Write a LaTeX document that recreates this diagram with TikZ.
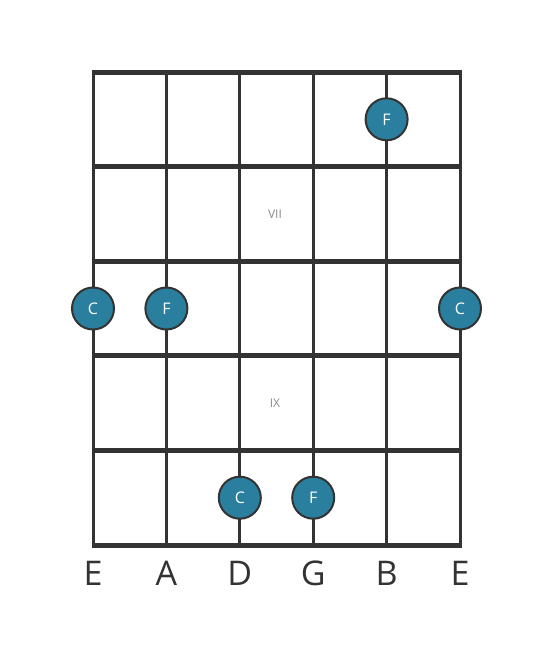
\documentclass[tikz,border=0pt]{standalone}
\usepackage{fontspec}
\setmainfont{Open Sans}
\usepackage{tikz}

\definecolor{linegray}{HTML}{333333}
\definecolor{dotblue}{HTML}{2A7F9E}
\definecolor{posgray}{HTML}{8A8A8A}

\tikzset{
	fretline/.style={draw=linegray, line width=5pt},
	stringline/.style={draw=linegray, line width=3pt},
	notedot/.style={circle, fill=dotblue, draw=linegray, line width=2pt, minimum size=42pt, inner sep=0pt, text=white, font=\fontsize{16}{16}\selectfont},
	poslabel/.style={text=posgray, font=\fontsize{12}{12}\selectfont},
	stringlabel/.style={text=linegray, font=\fontsize{34}{34}\selectfont}
}

\begin{document}
\begin{tikzpicture}[x=1pt, y=-1pt]
		\useasboundingbox (0,0) rectangle (553,656);
		
		% strings
		\foreach \s in {0,...,5}
			\draw[stringline] (93+73.4*\s, 72) -- (93+73.4*\s, 545);
		% frets
		\foreach \f in {0,...,5}
			\draw[fretline] (91.5, 72+94.6*\f) -- (461.5, 72+94.6*\f);
		
		% position markers
		\node[poslabel] (pos_vii) at (275, 214) {VII};
		\node[poslabel] (pos_ix) at (275, 403) {IX};
		
		% string names
		\foreach \name [count=\i from 0] in {E, A, D, G, B, E}
			\node[stringlabel] (str_\i) at (93+73.4*\i, 573) {\name};
		
		% notes
		\node[notedot] (n_f1) at (386.6, 119.3) {F};
		\node[notedot] (n_c1) at (93, 308.5) {C};
		\node[notedot] (n_f2) at (166.4, 308.5) {F};
		\node[notedot] (n_c2) at (460, 308.5) {C};
		\node[notedot] (n_c3) at (239.8, 497.7) {C};
		\node[notedot] (n_f3) at (313.2, 497.7) {F};
	\end{tikzpicture}
\end{document}
